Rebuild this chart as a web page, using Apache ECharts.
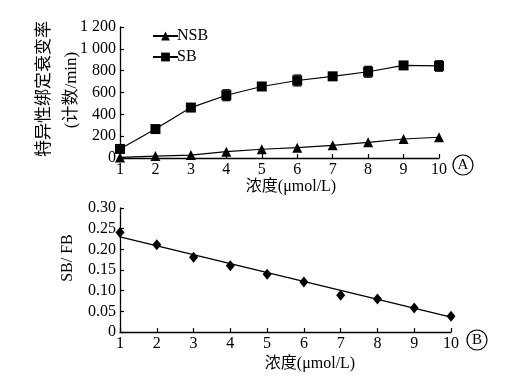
<!DOCTYPE html>
<html>
<head>
<meta charset="utf-8">
<script src="https://cdn.jsdelivr.net/npm/echarts@6/dist/echarts.min.js"></script>
<style>
html,body{margin:0;padding:0;background:#fff;}
#c{width:511px;height:384px;}
</style>
</head>
<body>
<div id="c"></div>
<script>
// ---- data ----
const concentration = [1, 2, 3, 4, 5, 6, 7, 8, 9, 10];
const nsbValues = [5, 18, 27, 58, 80, 95, 116, 144, 174, 190];
const sbValues = [83, 265, 462, 575, 655, 710, 748, 790, 848, 843];
const sbErrors = [15, 20, 25, 50, 30, 50, 35, 50, 30, 48];
const ratioValues = [0.241, 0.211, 0.181, 0.160, 0.140, 0.121, 0.089, 0.080, 0.058, 0.038];
const fitX = [1, 10];
const fitY = [0.230, 0.036];
const topYTickLabels = ['0', '200', '400', '600', '800', '1 000', '1 200'];
const bottomYTickLabels = ['0', '0.05', '0.10', '0.15', '0.20', '0.25', '0.30'];
const seriesNames = ['NSB', 'SB'];
const topYName = ['特异性绑定衰变率', '(计数/min)'];
const xName = '浓度(μmol/L)';
const bottomYName = 'SB/ FB';

const FONT = "'Liberation Serif', 'Noto Sans CJK SC', serif";
const chart = echarts.init(document.getElementById('c'), null, {renderer: 'canvas'});

const axisCommon = {
  axisLine: {show: true, lineStyle: {color: '#000', width: 1.3}},
  axisTick: {show: true, inside: true, length: 4, lineStyle: {color: '#000', width: 1.2}},
  splitLine: {show: false},
  axisLabel: {color: '#000', fontFamily: FONT, fontSize: 16, margin: 4}
};

function errorRender(params, api) {
  const x = api.value(0), y = api.value(1), e = api.value(2);
  const hi = api.coord([x, y + e]);
  const lo = api.coord([x, y - e]);
  const cw = 4;
  const style = {stroke: '#000', lineWidth: 1.2};
  return {type: 'group', children: [
    {type: 'line', shape: {x1: hi[0], y1: hi[1], x2: lo[0], y2: lo[1]}, style},
    {type: 'line', shape: {x1: hi[0] - cw, y1: hi[1], x2: hi[0] + cw, y2: hi[1]}, style},
    {type: 'line', shape: {x1: lo[0] - cw, y1: lo[1], x2: lo[0] + cw, y2: lo[1]}, style}
  ]};
}

const option = {
  backgroundColor: '#fff',
  animation: false,
  grid: [
    {left: 120, top: 27, width: 319, height: 131},
    {left: 120, top: 208, width: 331, height: 124}
  ],
  legend: {
    data: seriesNames,
    orient: 'vertical',
    left: 147,
    top: 23,
    itemWidth: 25,
    itemHeight: 11,
    itemGap: 5,
    textStyle: {color: '#000', fontFamily: FONT, fontSize: 16, padding: [0, 0, 0, -6]}
  },
  xAxis: [
    Object.assign({}, axisCommon, {gridIndex: 0, type: 'value', min: 1, max: 10, interval: 1}),
    Object.assign({}, axisCommon, {gridIndex: 1, type: 'value', min: 1, max: 10, interval: 1})
  ],
  yAxis: [
    Object.assign({}, axisCommon, {gridIndex: 0, type: 'value', min: 0, max: 1200, interval: 200,
      axisLabel: Object.assign({}, axisCommon.axisLabel, {formatter: v => topYTickLabels[Math.round(v / 200)]})}),
    Object.assign({}, axisCommon, {gridIndex: 1, type: 'value', min: 0, max: 0.30, interval: 0.05,
      axisLabel: Object.assign({}, axisCommon.axisLabel, {formatter: v => bottomYTickLabels[Math.round(v / 0.05)]})})
  ],
  series: [
    {
      name: seriesNames[0], type: 'line', xAxisIndex: 0, yAxisIndex: 0,
      data: concentration.map((x, i) => [x, nsbValues[i]]),
      symbol: 'triangle', symbolSize: 10, showAllSymbol: true,
      lineStyle: {color: '#000', width: 1.2}, itemStyle: {color: '#000', opacity: 1}, z: 3
    },
    {
      name: 'SB-err', type: 'custom', xAxisIndex: 0, yAxisIndex: 0,
      data: concentration.map((x, i) => [x, sbValues[i], sbErrors[i]]),
      renderItem: errorRender, z: 2, silent: true
    },
    {
      name: seriesNames[1], type: 'line', xAxisIndex: 0, yAxisIndex: 0,
      data: concentration.map((x, i) => [x, sbValues[i]]),
      symbol: 'rect', symbolSize: 10, showAllSymbol: true,
      lineStyle: {color: '#000', width: 1.2}, itemStyle: {color: '#000', opacity: 1}, z: 3
    },
    {
      name: 'fit', type: 'line', xAxisIndex: 1, yAxisIndex: 1,
      data: fitX.map((x, i) => [x, fitY[i]]),
      symbol: 'none', lineStyle: {color: '#000', width: 1.3}, z: 2
    },
    {
      name: 'SB/FB', type: 'scatter', xAxisIndex: 1, yAxisIndex: 1,
      data: concentration.map((x, i) => [x, ratioValues[i]]),
      symbol: 'diamond', symbolSize: [9, 11], itemStyle: {color: '#000', opacity: 1}, z: 3
    }
  ],
  graphic: [
    {type: 'text', x: 45, y: 89, rotation: Math.PI / 2,
      style: {text: topYName[0], fontFamily: FONT, fontSize: 17, fill: '#000', align: 'center', verticalAlign: 'middle'}},
    {type: 'text', x: 72, y: 90, rotation: Math.PI / 2,
      style: {text: topYName[1], fontFamily: FONT, fontSize: 17, fill: '#000', align: 'center', verticalAlign: 'middle'}},
    {type: 'text', x: 291, y: 187,
      style: {text: xName, fontFamily: FONT, fontSize: 16, fill: '#000', align: 'center', verticalAlign: 'middle'}},
    {type: 'text', x: 310, y: 364,
      style: {text: xName, fontFamily: FONT, fontSize: 16, fill: '#000', align: 'center', verticalAlign: 'middle'}},
    {type: 'text', x: 68, y: 258, rotation: Math.PI / 2,
      style: {text: bottomYName, fontFamily: FONT, fontSize: 16, fill: '#000', align: 'center', verticalAlign: 'middle'}},
    {type: 'circle', shape: {cx: 463, cy: 165, r: 10}, style: {fill: 'none', stroke: '#000', lineWidth: 1.2}},
    {type: 'text', x: 463, y: 165,
      style: {text: 'A', fontFamily: FONT, fontSize: 15, fill: '#000', align: 'center', verticalAlign: 'middle'}},
    {type: 'circle', shape: {cx: 477, cy: 340, r: 10}, style: {fill: 'none', stroke: '#000', lineWidth: 1.2}},
    {type: 'text', x: 477, y: 340,
      style: {text: 'B', fontFamily: FONT, fontSize: 15, fill: '#000', align: 'center', verticalAlign: 'middle'}}
  ]
};
chart.setOption(option);
</script>
</body>
</html>
